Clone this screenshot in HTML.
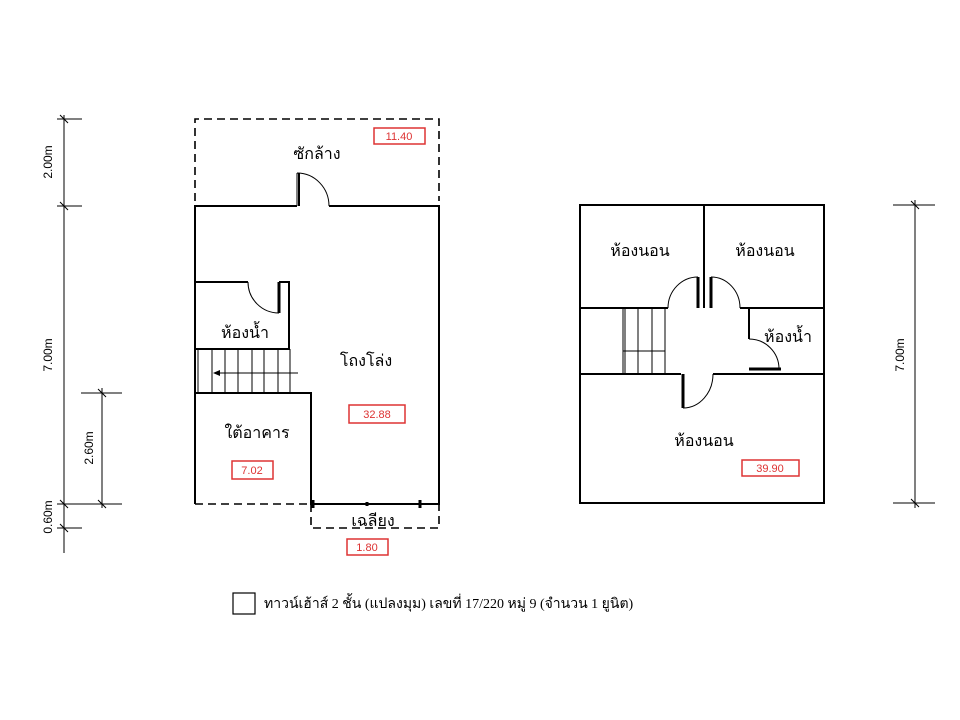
<!DOCTYPE html>
<html><head><meta charset="utf-8"><style>
html,body{margin:0;padding:0;background:#fff;width:960px;height:720px;overflow:hidden}
svg text{font-family:"Liberation Sans",sans-serif}
</style></head><body>
<svg width="960" height="720" viewBox="0 0 960 720" xmlns="http://www.w3.org/2000/svg">
<g stroke="#000" fill="none" stroke-width="2">
<!-- left plan dashed -->
<path d="M195 201 V119 H439 V201" stroke-dasharray="8,5" stroke-width="1.6"/>
<path d="M311 504 V528 H439 V504" stroke-dasharray="8,5" stroke-width="1.6"/>
<path d="M195 504 H311" stroke-dasharray="8,5" stroke-width="1.6"/>
<!-- main walls -->
<path d="M297 206 H195 V504"/>
<path d="M329 206 H439 V504 H311 V393 H195"/>
<path d="M297 206 V173 M297 173 A32 33 0 0 1 329 206" stroke-width="1"/>
<line x1="299" y1="173" x2="299" y2="206" stroke-width="2"/>
<!-- bathroom -->
<path d="M195 282 H248 M279 282 H289 V349 H195"/>
<path d="M279 282 V313" stroke-width="3"/>
<path d="M248 282 A31 31 0 0 0 279 313" stroke-width="1"/>
<!-- stairs -->
<g stroke-width="1">
<path d="M198 349 V393 M212 349 V393 M225 349 V393 M238 349 V393 M252 349 V393 M264 349 V393 M278 349 V393 M290 349 V393"/>
<path d="M298 373 H216"/>
</g>
<path d="M213 373 l7 -3 v6 z" fill="#000" stroke="none"/>
<!-- bottom jambs -->
<path d="M313 500 V508 M367 502 V506 M420 500 V508" stroke-width="3"/>
<!-- dims left -->
<g stroke-width="1">
<path d="M64 115 V553 M57 119 H82 M57 206 H82 M57 504 H82 M57 528 H82"/>
<path d="M60 115 l8 8 M60 202 l8 8 M60 500 l8 8 M60 524 l8 8"/>
<path d="M102 388 V508 M81 393 H122 M81 504 H122 M98 389 l8 8 M98 500 l8 8"/>
</g>
<!-- right plan -->
<path d="M580 205 H824 V503 H580 Z"/>
<path d="M704 205 V308 M580 308 H668 M740 308 H824 M749 308 V339 M580 374 H681 M713 374 H824"/>
<path d="M698 277 V308 M711 277 V308 M683 374 V408 M749 369 H781" stroke-width="3"/>
<g stroke-width="1">
<path d="M668 308 A30 31 0 0 1 698 277 M711 277 A29 31 0 0 1 740 308 M683 408 A30 34 0 0 0 713 374 M749 339 A30 30 0 0 1 779 369"/>
<path d="M623 308 V374 M625 308 V374 M638 308 V374 M652 308 V374 M665 308 V374 M623 351 H665"/>
<path d="M915 200 V508 M893 205 H935 M893 503 H935 M911 201 l8 8 M911 499 l8 8"/>
</g>
<rect x="233" y="593" width="22" height="21" stroke-width="1.2"/>
</g>
<!-- red boxes -->
<g fill="none" stroke="#d33" stroke-width="1.5">
<rect x="374" y="128" width="51" height="16"/>
<rect x="349" y="405" width="56" height="18"/>
<rect x="232" y="461" width="41" height="18"/>
<rect x="347" y="539" width="41" height="16"/>
<rect x="742" y="460" width="57" height="16"/>
</g>
<g fill="#d33" font-size="11" text-anchor="middle">
<text x="399" y="140">11.40</text>
<text x="377" y="418">32.88</text>
<text x="252" y="474">7.02</text>
<text x="367" y="551">1.80</text>
<text x="770" y="472">39.90</text>
</g>
<g fill="#000" font-size="16" text-anchor="middle">
<text x="317" y="159">ซักล้าง</text>
<text x="245" y="338">ห้องน้ำ</text>
<text x="366" y="366">โถงโล่ง</text>
<text x="257" y="438">ใต้อาคาร</text>
<text x="373" y="526">เฉลียง</text>
<text x="640" y="256">ห้องนอน</text>
<text x="765" y="256">ห้องนอน</text>
<text x="788" y="342">ห้องน้ำ</text>
<text x="704" y="446">ห้องนอน</text>
</g>
<g fill="#000" font-size="12" text-anchor="middle">
<text transform="translate(52,162) rotate(-90)">2.00m</text>
<text transform="translate(52,355) rotate(-90)">7.00m</text>
<text transform="translate(52,517) rotate(-90)">0.60m</text>
<text transform="translate(93,448) rotate(-90)">2.60m</text>
<text transform="translate(904,355) rotate(-90)">7.00m</text>
</g>
<text x="264" y="608" font-size="14" style="font-family:'Liberation Serif',serif" fill="#000">ทาวน์เฮ้าส์ 2 ชั้น  (แปลงมุม)  เลขที่  17/220 หมู่ 9  (จำนวน 1 ยูนิต)</text>
</svg>
</body></html>
